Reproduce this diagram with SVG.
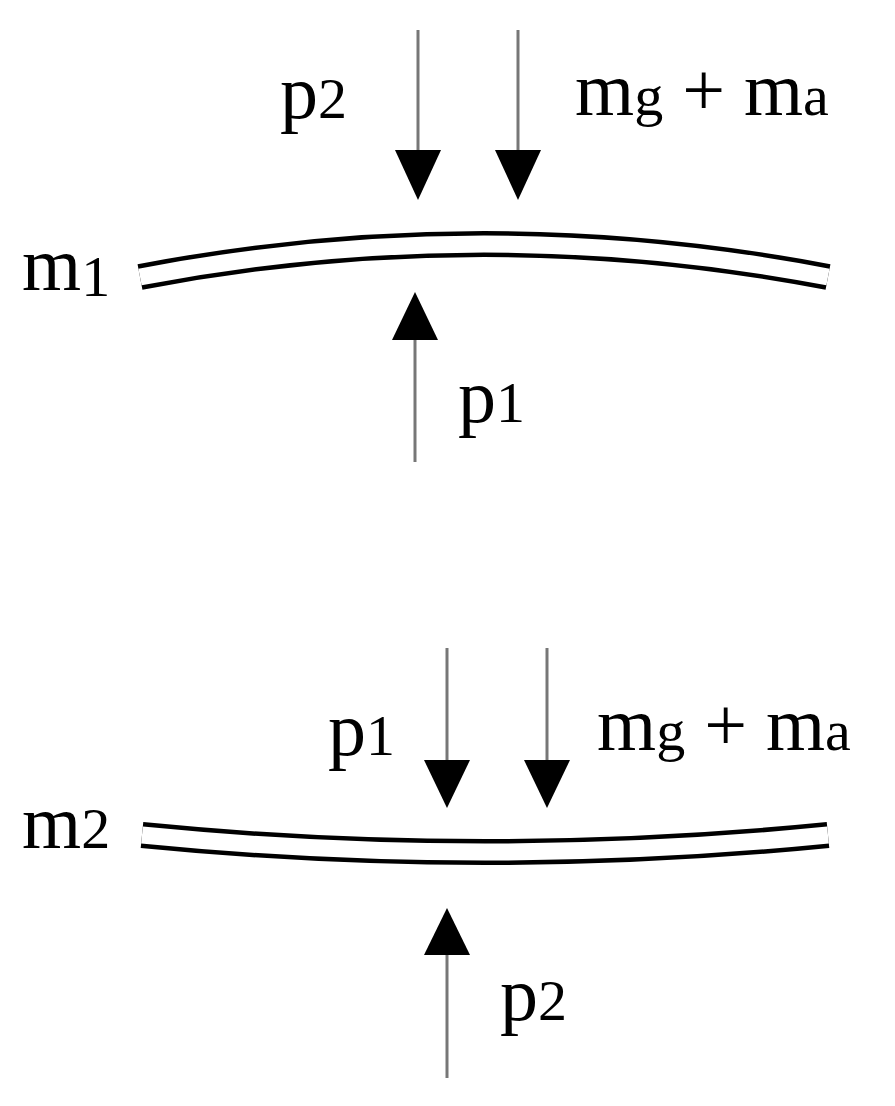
<svg xmlns="http://www.w3.org/2000/svg" width="895" height="1106" viewBox="0 0 895 1106">
<style>
.t{font-family:"Liberation Serif",serif;font-size:76px;fill:#000}
.s{font-size:58px}
.ln{stroke:#777;stroke-width:3;fill:none}
.hd{fill:#000}
.bo{stroke:#000;stroke-width:26;fill:none}
.bi{stroke:#fff;stroke-width:17;fill:none}
</style>
<rect width="895" height="1106" fill="#fff"/>
<g id="beam1"><path class="bo" d="M140,277 Q484,211 828,277"/><path class="bi" d="M140,277 Q484,211 828,277"/></g>
<g id="beam2"><path class="bo" d="M142,835 Q485,869 828,835"/><path class="bi" d="M142,835 Q485,869 828,835"/></g>
<g id="connectors">
<line class="ln" x1="418" y1="30" x2="418" y2="152"/><polygon class="hd" points="395,150 441,150 418,200"/>
<line class="ln" x1="518" y1="30" x2="518" y2="152"/><polygon class="hd" points="495,150 541,150 518,200"/>
<line class="ln" x1="415" y1="338" x2="415" y2="462"/><polygon class="hd" points="392,340 438,340 415,292"/>
<line class="ln" x1="447" y1="648" x2="447" y2="762"/><polygon class="hd" points="424,760 470,760 447,808"/>
<line class="ln" x1="547" y1="648" x2="547" y2="762"/><polygon class="hd" points="524,760 570,760 547,808"/>
<line class="ln" x1="447" y1="953" x2="447" y2="1078"/><polygon class="hd" points="424,955 470,955 447,908"/>
</g>
<g id="labels">
<text class="t" x="280" y="118">p<tspan class="s">2</tspan></text>
<text class="t" x="575" y="115">m<tspan class="s">g</tspan> + m<tspan class="s">a</tspan></text>
<text class="t" x="22" y="290">m<tspan class="s" dy="6">1</tspan></text>
<text class="t" x="458" y="422">p<tspan class="s">1</tspan></text>
<text class="t" x="328" y="755">p<tspan class="s">1</tspan></text>
<text class="t" x="597" y="750">m<tspan class="s">g</tspan> + m<tspan class="s">a</tspan></text>
<text class="t" x="22" y="848">m<tspan class="s">2</tspan></text>
<text class="t" x="500" y="1020">p<tspan class="s">2</tspan></text>
</g>
</svg>
